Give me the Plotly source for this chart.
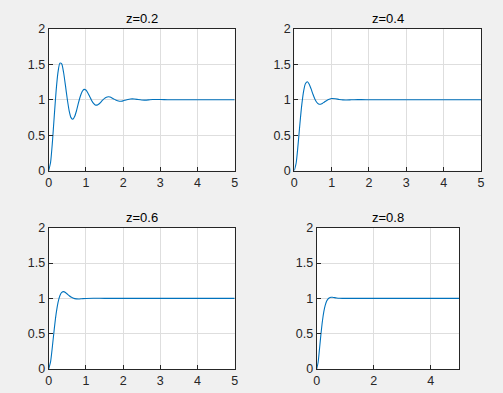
import plotly.graph_objects as go

# ---- data ----
titles = ["z=0.2", "z=0.4", "z=0.6", "z=0.8"]

t_02 = [0, 0.05, 0.1, 0.15, 0.2, 0.25, 0.3, 0.35, 0.4, 0.45, 0.5, 0.55, 0.6, 0.65, 0.7, 0.75,
        0.8, 0.85, 0.9, 0.95, 1.0, 1.05, 1.1, 1.15, 1.2, 1.25, 1.3, 1.35, 1.4, 1.45, 1.5, 1.55,
        1.6, 1.65, 1.7, 1.75, 1.8, 1.85, 1.9, 1.95, 2.0, 2.1, 2.2, 2.3, 2.4, 2.5, 2.6, 2.7, 2.8,
        2.9, 3.0, 3.2, 3.5, 4.0, 5.0]
y_02 = [0, 0.115, 0.405, 0.775, 1.128, 1.388, 1.515, 1.505, 1.383, 1.201, 1.006, 0.844, 0.747,
        0.724, 0.766, 0.850, 0.954, 1.049, 1.115, 1.145, 1.136, 1.099, 1.046, 0.993, 0.951, 0.927,
        0.924, 0.939, 0.964, 0.993, 1.018, 1.034, 1.041, 1.037, 1.025, 1.010, 0.996, 0.985, 0.979,
        0.979, 0.984, 0.999, 1.010, 1.010, 1.002, 0.995, 0.994, 0.998, 1.002, 1.003, 1.002, 0.9995,
        1.0003, 1.0, 1.0]

t_04 = [0, 0.05, 0.1, 0.15, 0.2, 0.25, 0.3, 0.35, 0.4, 0.45, 0.5, 0.55, 0.6, 0.65, 0.7, 0.75,
        0.8, 0.9, 1.0, 1.1, 1.2, 1.3, 1.4, 1.5, 1.6, 1.8, 2.0, 5.0]
y_04 = [0, 0.108, 0.360, 0.658, 0.927, 1.122, 1.228, 1.253, 1.219, 1.152, 1.076, 1.010, 0.964,
        0.940, 0.936, 0.947, 0.965, 0.999, 1.016, 1.013, 1.004, 0.997, 0.996, 0.998, 1.0, 1.0005,
        1.0, 1.0]

t_06 = [0, 0.05, 0.1, 0.15, 0.2, 0.25, 0.3, 0.35, 0.4, 0.45, 0.5, 0.55, 0.6, 0.7, 0.8, 0.9,
        1.0, 1.2, 1.5, 5.0]
y_06 = [0, 0.101, 0.322, 0.568, 0.783, 0.941, 1.038, 1.085, 1.095, 1.083, 1.061, 1.038, 1.018,
        0.996, 0.991, 0.995, 0.9985, 1.0008, 1.0, 1.0]

t_08 = [0, 0.05, 0.1, 0.15, 0.2, 0.25, 0.3, 0.35, 0.4, 0.45, 0.5, 0.55, 0.6, 0.7, 0.8, 0.9,
        1.0, 1.2, 5.0]
y_08 = [0, 0.096, 0.291, 0.498, 0.676, 0.811, 0.903, 0.961, 0.993, 1.009, 1.015, 1.015, 1.012,
        1.006, 1.002, 1.0003, 0.9998, 1.0, 1.0]

series_t = [t_02, t_04, t_06, t_08]
series_y = [y_02, y_04, y_06, y_08]

x_tick_sets = [[0, 1, 2, 3, 4, 5], [0, 1, 2, 3, 4, 5], [0, 1, 2, 3, 4, 5], [0, 2, 4]]
y_ticks = [0, 0.5, 1, 1.5, 2]
y_tick_text = ["0", "0.5", "1", "1.5", "2"]

# ---- layout geometry (paper fractions) ----
W, H = 503, 393
x_domains = [[48.7 / W, 234.7 / W], [294.3 / W, 481 / W],
             [48.7 / W, 234.7 / W], [316.7 / W, 459.3 / W]]
y_domains = [[1 - 170.7 / H, 1 - 28.7 / H], [1 - 170.7 / H, 1 - 28.7 / H],
             [1 - 369 / H, 1 - 227.7 / H], [1 - 369 / H, 1 - 227.7 / H]]

FONT = "Liberation Sans, Arial, sans-serif"
AX_COLOR = "#262626"
GRID = "#dedede"

fig = go.Figure()
layout = dict(
    width=W, height=H,
    margin=dict(l=0, r=0, t=0, b=0, autoexpand=False),
    paper_bgcolor="#f0f0f0",
    plot_bgcolor="#ffffff",
    showlegend=False,
    font=dict(family=FONT, size=12, color=AX_COLOR),
)
annotations = []
for i in range(4):
    n = "" if i == 0 else str(i + 1)
    fig.add_trace(go.Scatter(
        x=series_t[i], y=series_y[i], mode="lines",
        line=dict(color="#0072BD", width=1.1, shape="spline", smoothing=0.6),
        xaxis="x" + n, yaxis="y" + n, hoverinfo="skip"))
    layout["xaxis" + n] = dict(
        domain=x_domains[i], anchor="y" + n, range=[0, 5], automargin=False,
        tickvals=x_tick_sets[i], ticktext=[str(v) for v in x_tick_sets[i]],
        showline=True, mirror=True, linecolor=AX_COLOR, linewidth=1,
        ticks="inside", ticklen=4, tickcolor=AX_COLOR, tickwidth=1,
        showgrid=True, gridcolor=GRID, gridwidth=1, zeroline=False,
        tickfont=dict(family=FONT, size=12.5, color=AX_COLOR),
        fixedrange=True)
    layout["yaxis" + n] = dict(
        domain=y_domains[i], anchor="x" + n, range=[0, 2], automargin=False,
        tickvals=y_ticks, ticktext=y_tick_text,
        showline=True, mirror=True, linecolor=AX_COLOR, linewidth=1,
        ticks="inside", ticklen=4, tickcolor=AX_COLOR, tickwidth=1,
        showgrid=True, gridcolor=GRID, gridwidth=1, zeroline=False,
        tickfont=dict(family=FONT, size=12.5, color=AX_COLOR),
        fixedrange=True)
    xc = (x_domains[i][0] + x_domains[i][1]) / 2
    annotations.append(dict(
        text=titles[i], x=xc, y=y_domains[i][1], xref="paper", yref="paper",
        xanchor="center", yanchor="bottom", yshift=1, showarrow=False,
        font=dict(family=FONT, size=13, color="#000000")))
layout["annotations"] = annotations
fig.update_layout(**layout)
fig.write_html("out.html")
